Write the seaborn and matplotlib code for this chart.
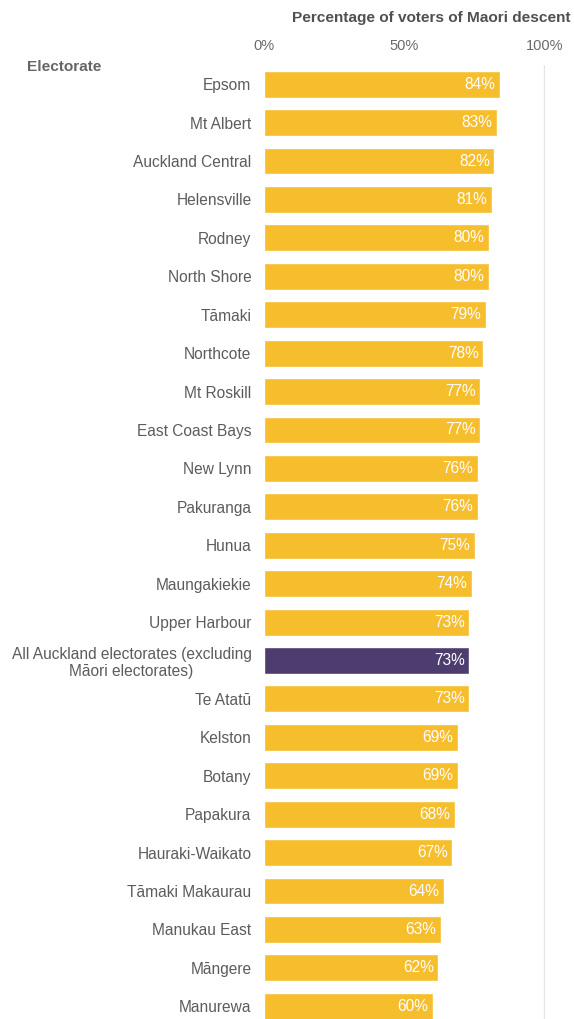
import matplotlib
matplotlib.use("Agg")
import matplotlib.pyplot as plt
import seaborn as sns
import pandas as pd

electorates = [
    "Epsom", "Mt Albert", "Auckland Central", "Helensville", "Rodney",
    "North Shore", "Tāmaki", "Northcote", "Mt Roskill", "East Coast Bays",
    "New Lynn", "Pakuranga", "Hunua", "Maungakiekie", "Upper Harbour",
    "All Auckland electorates (excluding\nMāori electorates)",
    "Te Atatū", "Kelston", "Botany", "Papakura", "Hauraki-Waikato",
    "Tāmaki Makaurau", "Manukau East", "Māngere", "Manurewa",
]
shares = [84, 83, 82, 81, 80, 80, 79, 78, 77, 77, 76, 76, 75, 74, 73,
          73, 73, 69, 69, 68, 67, 64, 63, 62, 60]
groups = ["electorate"] * 15 + ["all"] + ["electorate"] * 9
tick_values = [0, 50, 100]
tick_labels = ["0%", "50%", "100%"]

YELLOW = "#F6BD2C"
PURPLE = "#4D3C6E"
TEXT = "#5c5c5c"

sns.set_theme(style="white")
plt.rcParams["font.family"] = ["Liberation Sans", "DejaVu Sans"]

df = pd.DataFrame({"Electorate": electorates, "Share": shares, "Group": groups})

W, H = 574, 1019
fig = plt.figure(figsize=(W / 100, H / 100), dpi=100)
ax = fig.add_axes([264 / W, 0, (545 - 264) / W, (1019 - 65) / H])

# faint reference line at 100%
ax.axvline(99.5, color="#e4e4e4", linewidth=1.0, zorder=0)

sns.barplot(data=df, y="Electorate", x="Share", hue="Group",
            palette={"electorate": YELLOW, "all": PURPLE},
            orient="h", width=0.7, dodge=False, legend=False,
            saturation=1, ax=ax)

for i, v in enumerate(shares):
    ax.text(v - 1.6, i, f"{v}%", ha="right", va="center",
            color="white", fontsize=11.2)

ax.set_xlim(0, 100)
ax.set_ylim(-0.5 + 954 / 38.42, -0.5)
ax.xaxis.tick_top()
ax.set_xticks(tick_values)
ax.set_xticklabels(tick_labels)
ax.tick_params(axis="x", length=0, pad=9, labelsize=10.5, labelcolor="#6a6a6a")
ax.tick_params(axis="y", length=0, pad=9, labelsize=11.2, labelcolor=TEXT)
for lab in ax.get_yticklabels():
    lab.set_multialignment("center")
ax.set_xlabel("")
ax.set_ylabel("")
for s in ax.spines.values():
    s.set_visible(False)

fig.text(292 / W, 1 - 18 / H, "Percentage of voters of Maori descent",
         ha="left", va="center", fontsize=11.1, fontweight="bold", color="#505050")
fig.text(27 / W, 1 - 67 / H, "Electorate", ha="left", va="center",
         fontsize=11.1, fontweight="bold", color="#666666")

fig.savefig("out.png", dpi=100)
